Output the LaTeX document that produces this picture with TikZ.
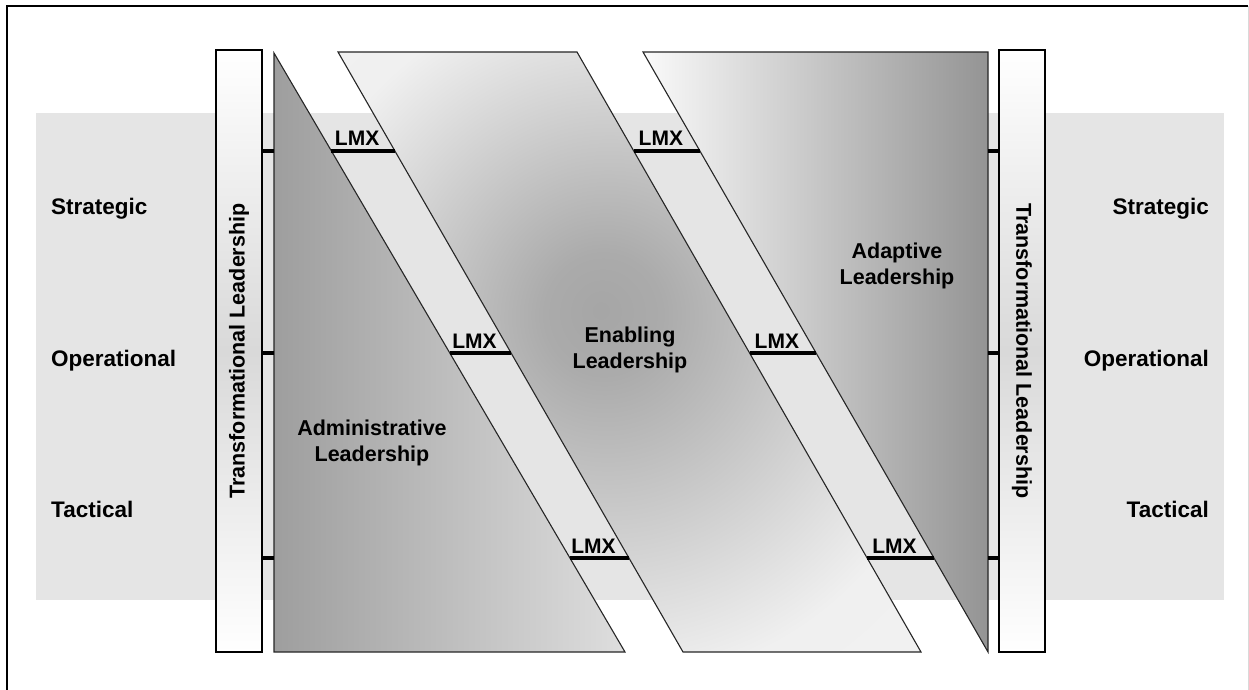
\documentclass[tikz,border=0pt]{standalone}
\usepackage{fontspec}
\setmainfont{Liberation Sans}
\usetikzlibrary{calc}
\pgfdeclareradialshading{enab}{\pgfpoint{-2.5bp}{3.5bp}}{color(0bp)=(black!35); color(5bp)=(black!33); color(29bp)=(black!6); color(50bp)=(black!4)}
\begin{document}
\begin{tikzpicture}[x=1pt,y=-1pt,
  lbl/.style={font=\fontsize{21.5}{26}\selectfont\bfseries, inner sep=0pt, align=center},
  side/.style={font=\fontsize{22.5}{27}\selectfont\bfseries, inner sep=0pt},
  lmx/.style={font=\fontsize{21}{24}\selectfont\bfseries, inner sep=0pt, anchor=base},
  outline/.style={draw=black!85, line width=1.1pt, line join=miter},
  link/.style={line width=4pt, black},
  tfbar/.style={draw=black, line width=1.3pt, top color=white, bottom color=white, middle color=black!15}]
\useasboundingbox (0,0) rectangle (1249,690);
% frame
\draw[line width=2pt] (7,690) -- (7,6) -- (1248,6);
\draw[black!15, line width=0.8pt] (1248,6) -- (1248,690);
% band
\fill[black!10] (36,113) rectangle (1224,600);
% shape vertices
\coordinate (A1) at (274,53); \coordinate (A2) at (625,652); \coordinate (A3) at (274,652);
\coordinate (E1) at (338,52); \coordinate (E2) at (577,52); \coordinate (E3) at (921,652); \coordinate (E4) at (683,652);
\coordinate (D1) at (643,52); \coordinate (D2) at (988,52); \coordinate (D3) at (988,652);
% administrative
\path[outline, left color=black!38, right color=black!13] (A1) -- (A2) -- (A3) -- cycle;
% enabling
\path[outline, shading=enab] (E1) -- (E2) -- (E3) -- (E4) -- cycle;
% adaptive
\path[outline, left color=black!2, right color=black!42] (D1) -- (D2) -- (D3) -- cycle;
% transformational bars
\node[tfbar, minimum width=46pt, minimum height=602pt, inner sep=0pt] (TL) at (239,351) {};
\node[tfbar, minimum width=46pt, minimum height=602pt, inner sep=0pt] (TR) at (1022,351) {};
\node[lbl, rotate=90] (TLt) at (TL.center) {Transformational Leadership};
\node[lbl, rotate=-90] (TRt) at (TR.center) {Transformational Leadership};
% ticks
\foreach \y/\n in {151/a,353/b,558/c}{
  \coordinate (tl\n) at (262,\y); \coordinate (al\n) at (274,\y);
  \coordinate (dr\n) at (988,\y); \coordinate (tr\n) at (999,\y);
  \draw[link] (tl\n) -- (al\n);
  \draw[link] (dr\n) -- (tr\n);
}
% LMX bars
\coordinate (h1a) at (331.4,151); \coordinate (el1a) at (394.9,151);
\coordinate (h1b) at (449.8,353); \coordinate (el1b) at (511.1,353);
\coordinate (h1c) at (569.9,558); \coordinate (el1c) at (629.0,558);
\coordinate (er2a) at (633.8,151); \coordinate (dl2a) at (699.9,151);
\coordinate (er2b) at (749.6,353); \coordinate (dl2b) at (816.1,353);
\coordinate (er2c) at (867.1,558); \coordinate (dl2c) at (934.0,558);
\foreach \p/\q in {h1a/el1a,h1b/el1b,h1c/el1c,er2a/dl2a,er2b/dl2b,er2c/dl2c}{
  \draw[link] (\p) -- (\q);
  \node[lmx] (L\p) at ($(\p)!0.5!(\q)+(-6,-5)$) {LMX};
}
% shape labels
\node[lbl] (adm) at (372,443) {Administrative\\Leadership};
\node[lbl] (ena) at (630,350) {Enabling\\Leadership};
\node[lbl] (ada) at (897,266) {Adaptive\\Leadership};
% level labels
\node[side, anchor=base west] (ls) at (51,214) {Strategic};
\node[side, anchor=base west] (lo) at (51,366) {Operational};
\node[side, anchor=base west] (lt) at (51,517) {Tactical};
\node[side, anchor=base east] (rs) at (1209,214) {Strategic};
\node[side, anchor=base east] (ro) at (1209,366) {Operational};
\node[side, anchor=base east] (rt) at (1209,517) {Tactical};
\end{tikzpicture}
\end{document}
